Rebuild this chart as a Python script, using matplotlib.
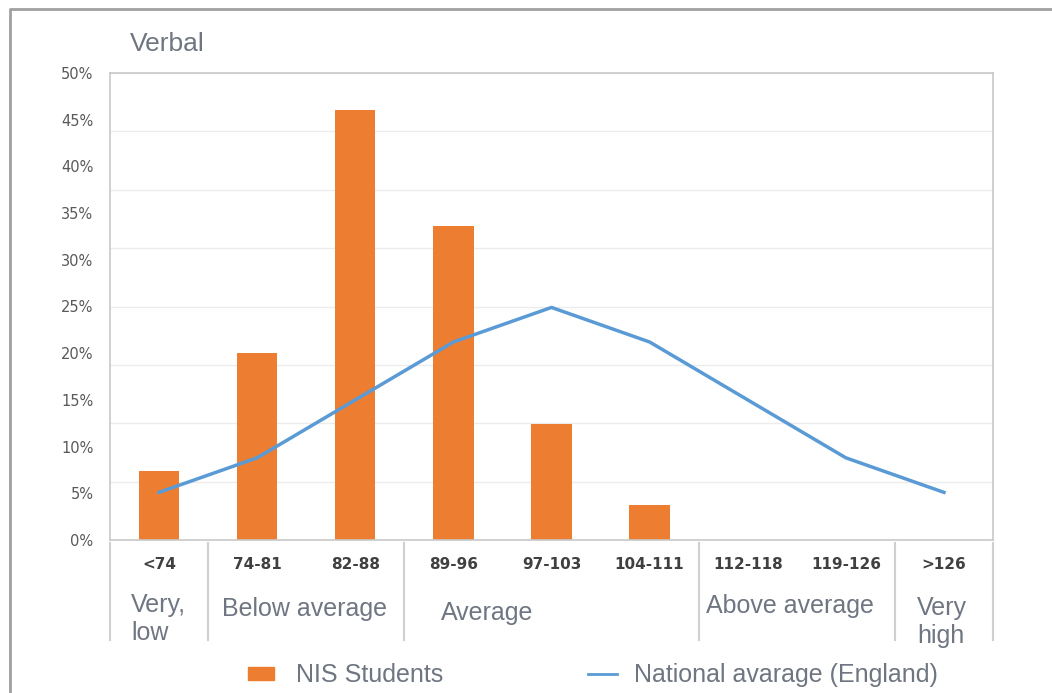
import numpy as np
import matplotlib
matplotlib.use("Agg")
import matplotlib.pyplot as plt
import matplotlib.transforms as mtransforms
from matplotlib.lines import Line2D
from matplotlib.patches import Rectangle

# score bands and percentages
bands = ["<74", "74-81", "82-88", "89-96", "97-103", "104-111", "112-118", "119-126", ">126"]
nis_students = [7.4, 20.0, 46.0, 33.6, 12.4, 3.7, 0, 0, 0]
national_avg = [5.1, 8.8, 15.0, 21.2, 24.9, 21.2, 15.0, 8.8, 5.1]
y_ticks = [0, 5, 10, 15, 20, 25, 30, 35, 40, 45, 50]
groups = ["Very,\nlow", "Below average", "Average", "Above average", "Very\nhigh"]
group_edges = [-0.5, 0.5, 2.5, 5.5, 7.5, 8.5]

W, H = 1052, 693
fig = plt.figure(figsize=(W / 100, H / 100), dpi=100)

def px(x0, y0, w, h):
    return [x0 / W, 1 - (y0 + h) / H, w / W, h / H]

ax = fig.add_axes(px(110, 73, 883, 467))
x = np.arange(len(bands))

# light gridlines (8 bands)
for g in np.linspace(0, 50, 9)[1:]:
    ax.axhline(g, color="#ececec", lw=1, zorder=0)

ax.bar(x, nis_students, width=0.41, color="#ED7D31", zorder=2)
ax.plot(x, national_avg, color="#5B9BD5", lw=2.5, zorder=3)

ax.set_xlim(-0.5, len(bands) - 0.5)
ax.set_ylim(0, 50)
ax.set_yticks(y_ticks)
ax.set_yticklabels([f"{v}%" for v in y_ticks], fontsize=10.5, color="#595959",
                   family="DejaVu Sans")
ax.tick_params(axis="y", length=0, pad=12)
ax.set_xticks(x)
ax.set_xticklabels(bands, fontsize=11, fontweight="bold", color="#404040",
                   family="DejaVu Sans")
ax.tick_params(axis="x", length=0, pad=12)

for s in ["left", "top", "right", "bottom"]:
    ax.spines[s].set_color("#c8c8c8")
    ax.spines[s].set_linewidth(1.2)

# group separators below the axis
trans = mtransforms.blended_transform_factory(ax.transData, ax.transAxes)
for e in group_edges:
    ax.add_line(Line2D([e, e], [-0.006, -0.215], transform=trans, color="#d0d0d0",
                       lw=1.5, clip_on=False))

label_color = "#6f7682"
group_pos = [(131, 619), (222, 609), (441, 613), (706, 606), (917, 622)]
for name, (gx, gy) in zip(groups, group_pos):
    fig.text(gx / W, 1 - gy / H, name, fontsize=18, color=label_color,
             family="Liberation Sans", ha="left", va="center", linespacing=1.25)

fig.text(130 / W, 1 - 44 / H, "Verbal", fontsize=19, color=label_color,
         family="Liberation Sans", ha="left", va="center")

# legend
fig.patches.append(Rectangle((248 / W, 1 - 680 / H), 26 / W, 13 / H,
                             transform=fig.transFigure, color="#ED7D31"))
fig.text(296 / W, 1 - 675 / H, "NIS Students", fontsize=18, color=label_color,
         family="Liberation Sans", ha="left", va="center")
fig.lines.append(Line2D([588 / W, 617 / W], [1 - 674 / H, 1 - 674 / H],
                        transform=fig.transFigure, color="#5B9BD5", lw=2))
fig.text(634 / W, 1 - 675 / H, "National avarage (England)", fontsize=18,
         color=label_color, family="Liberation Sans", ha="left", va="center")

# outer frame
fig.lines.append(Line2D([10 / W, 10 / W, 1.0], [0.0, 1 - 9 / H, 1 - 9 / H],
                        transform=fig.transFigure, color="#a0a0a0", lw=2))

fig.savefig("out.png", dpi=100)
